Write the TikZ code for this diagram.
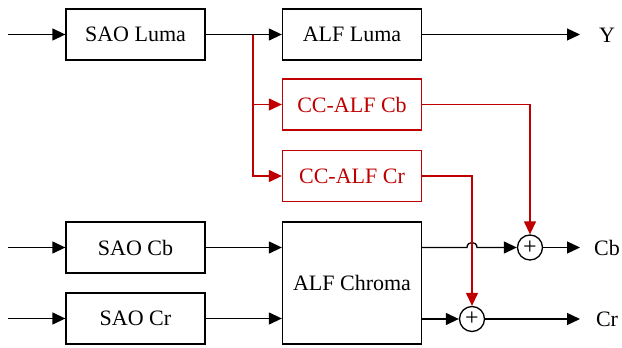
\documentclass[tikz,border=0pt]{standalone}
\usepackage{fontspec}
\setmainfont{Liberation Serif}
\usetikzlibrary{arrows.meta,calc}
\definecolor{ccred}{RGB}{192,0,0}
\begin{document}
\begin{tikzpicture}[x=1pt,y=-1pt,line width=1.3pt,
  >={Triangle[length=13pt,width=12pt]},
  blk/.style={draw,minimum width=139pt,minimum height=51pt,inner sep=0pt,font=\fontsize{22}{24}\selectfont},
  redblk/.style={blk,draw=ccred,text=ccred},
  adder/.style={draw,circle,minimum size=25pt,inner sep=0pt,font=\fontsize{24}{24}\selectfont},
  lbl/.style={font=\fontsize{22}{24}\selectfont},
  redline/.style={ccred}]
\useasboundingbox (0,0) rectangle (622,348);
\node[blk] (saol) at (135.5,34.5) {SAO Luma};
\node[blk] (alfl) at (352,34.5) {ALF Luma};
\node[redblk] (ccb) at (352,104.5) {CC-ALF Cb};
\node[redblk] (ccr) at (352,176) {CC-ALF Cr};
\node[blk] (saob) at (135.5,247.5) {SAO Cb};
\node[blk] (saor) at (135.5,318.5) {SAO Cr};
\node[blk,minimum height=122pt] (alfc) at (352,283) {ALF Chroma};
\node[adder] (addb) at (530,247.5) {+};
\node[adder] (addr) at (472,319) {+};
\node[lbl] (ly) at (607,35) {Y};
\node[lbl] (lb) at (607,247.5) {Cb};
\node[lbl] (lr) at (607,319) {Cr};
\coordinate (in1) at (8,34.5);
\coordinate (in2) at (8,247.5);
\coordinate (in3) at (8,318.5);
\coordinate (outy) at (580,34.5);
\coordinate (outb) at (580,247.5);
\coordinate (outr) at (580,319);
\coordinate (br) at (253,34.5);
% inputs
\draw[->] (in1) -- (saol.west);
\draw[->] (in2) -- (saob.west);
\draw[->] (in3) -- (saor.west);
% luma
\draw[->] (saol.east) -- (alfl.west);
\draw[->] (alfl.east) -- (outy);
% CC-ALF branches
\draw[redline,->] (br) |- (ccb.west);
\draw[redline,->] (br) |- (ccr.west);
% chroma
\draw[->] (saob.east) -- (alfc.west |- saob.east);
\draw[->] (saor.east) -- (alfc.west |- saor.east);
\draw[->] (alfc.east |- addb) -- (467,247.5) .. controls (467,240.83) and (477,240.83) .. (477,247.5) -- (addb.west);
\draw[->] (alfc.east |- addr) -- (addr.west);
\draw[redline,->] (ccb.east) -| (addb.north);
\draw[redline,->] (ccr.east) -| (addr.north);
% outputs
\draw[->] (addb.east) -- (outb);
\draw[->] (addr.east) -- (outr);
\end{tikzpicture}
\end{document}
